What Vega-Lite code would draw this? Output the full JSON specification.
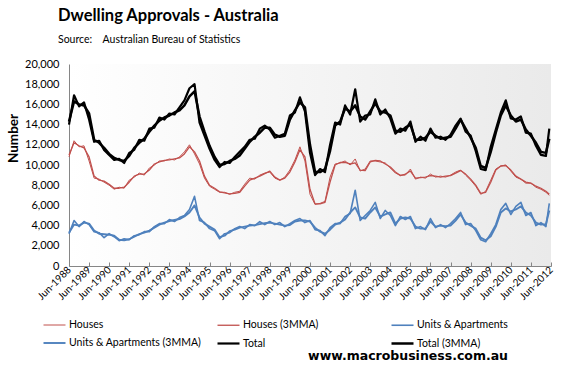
{
  "$schema": "https://vega.github.io/schema/vega-lite/v6.json",
  "width": 482,
  "height": 202,
  "autosize": {"type": "none"},
  "padding": {"left": 69, "top": 64, "right": 20, "bottom": 108},
  "background": "white",
  "title": {
    "text": "Dwelling Approvals - Australia",
    "subtitle": "Source:\u00a0\u00a0\u00a0\u00a0Australian Bureau of Statistics",
    "anchor": "start",
    "frame": "group",
    "dx": -11,
    "font": "Lato",
    "fontSize": 16.5,
    "fontWeight": "bold",
    "color": "#000000",
    "subtitleFont": "Lato",
    "subtitleFontSize": 10.5,
    "subtitleColor": "#000000",
    "subtitlePadding": 10,
    "offset": 13
  },
  "config": {
    "font": "Lato",
    "view": {
      "stroke": null,
      "fill": {
        "gradient": "linear",
        "x1": 0, "y1": 0, "x2": 1, "y2": 0,
        "stops": [
          {"offset": 0, "color": "#ffffff"},
          {"offset": 1, "color": "#eaeaea"}
        ]
      }
    }
  },
  "data": {
    "format": {"parse": {"d": "date:'%Y-%m'"}},
    "values": [
      {"d":"1988-06","h":10800,"hm":11000,"u":3200,"um":3300,"t":14000,"tm":14300},
      {"d":"1988-09","h":12400,"hm":12200,"u":4500,"um":4100,"t":16900,"tm":16300},
      {"d":"1988-12","h":11800,"hm":11900,"u":3900,"um":4000,"t":15800,"tm":16000},
      {"d":"1989-03","h":11900,"hm":11700,"u":4400,"um":4300,"t":16200,"tm":15900},
      {"d":"1989-06","h":10400,"hm":10800,"u":4100,"um":4200,"t":14500,"tm":15100},
      {"d":"1989-09","h":8700,"hm":8900,"u":3400,"um":3500,"t":12300,"tm":12500},
      {"d":"1989-12","h":8600,"hm":8500,"u":3300,"um":3200,"t":12400,"tm":12200},
      {"d":"1990-03","h":8300,"hm":8400,"u":2800,"um":3150,"t":11500,"tm":11700},
      {"d":"1990-06","h":8000,"hm":8100,"u":3200,"um":3100,"t":11000,"tm":11100},
      {"d":"1990-09","h":7600,"hm":7700,"u":2900,"um":3000,"t":10500,"tm":10700},
      {"d":"1990-12","h":7800,"hm":7700,"u":2500,"um":2600,"t":10600,"tm":10500},
      {"d":"1991-03","h":7700,"hm":7800,"u":2700,"um":2550,"t":10200,"tm":10400},
      {"d":"1991-06","h":8500,"hm":8300,"u":2600,"um":2650,"t":11200,"tm":10900},
      {"d":"1991-09","h":8800,"hm":8900,"u":3000,"um":2900,"t":11500,"tm":11700},
      {"d":"1991-12","h":9200,"hm":9100,"u":3100,"um":3150,"t":12500,"tm":12200},
      {"d":"1992-03","h":9000,"hm":9100,"u":3400,"um":3300,"t":12400,"tm":12600},
      {"d":"1992-06","h":9700,"hm":9500,"u":3400,"um":3500,"t":13600,"tm":13300},
      {"d":"1992-09","h":10000,"hm":10100,"u":3900,"um":3800,"t":13700,"tm":13900},
      {"d":"1992-12","h":10400,"hm":10300,"u":4200,"um":4100,"t":14700,"tm":14400},
      {"d":"1993-03","h":10400,"hm":10450,"u":4200,"um":4300,"t":14500,"tm":14700},
      {"d":"1993-06","h":10600,"hm":10500,"u":4600,"um":4450,"t":15100,"tm":14900},
      {"d":"1993-09","h":10500,"hm":10600,"u":4400,"um":4550,"t":15000,"tm":15200},
      {"d":"1993-12","h":10800,"hm":10700,"u":4800,"um":4650,"t":15700,"tm":15400},
      {"d":"1994-03","h":11300,"hm":11100,"u":5000,"um":4900,"t":16400,"tm":15900},
      {"d":"1994-06","h":12000,"hm":11800,"u":5600,"um":5300,"t":17600,"tm":16800},
      {"d":"1994-09","h":11100,"hm":11300,"u":6900,"um":6000,"t":18000,"tm":17300},
      {"d":"1994-12","h":10100,"hm":10400,"u":4500,"um":4800,"t":14200,"tm":14800},
      {"d":"1995-03","h":8700,"hm":8900,"u":4300,"um":4200,"t":12900,"tm":13300},
      {"d":"1995-06","h":7900,"hm":8000,"u":3700,"um":3900,"t":11600,"tm":11900},
      {"d":"1995-09","h":7600,"hm":7700,"u":3500,"um":3600,"t":10500,"tm":10800},
      {"d":"1995-12","h":7300,"hm":7350,"u":2700,"um":2850,"t":9800,"tm":10000},
      {"d":"1996-03","h":7300,"hm":7250,"u":3200,"um":3000,"t":10300,"tm":10100},
      {"d":"1996-06","h":7100,"hm":7150,"u":3300,"um":3450,"t":10200,"tm":10400},
      {"d":"1996-09","h":7300,"hm":7200,"u":3700,"um":3600,"t":10800,"tm":10600},
      {"d":"1996-12","h":7400,"hm":7300,"u":3900,"um":3800,"t":11300,"tm":10950},
      {"d":"1997-03","h":8100,"hm":7900,"u":3700,"um":3900,"t":11800,"tm":11600},
      {"d":"1997-06","h":8700,"hm":8500,"u":4100,"um":4000,"t":12500,"tm":12300},
      {"d":"1997-09","h":8600,"hm":8700,"u":4000,"um":4050,"t":12600,"tm":12800},
      {"d":"1997-12","h":9000,"hm":8900,"u":4400,"um":4150,"t":13600,"tm":13200},
      {"d":"1998-03","h":9200,"hm":9150,"u":4100,"um":4250,"t":13900,"tm":13700},
      {"d":"1998-06","h":9300,"hm":9400,"u":4400,"um":4300,"t":13500,"tm":13700},
      {"d":"1998-09","h":8700,"hm":8800,"u":4100,"um":4200,"t":12700,"tm":13000},
      {"d":"1998-12","h":8500,"hm":8500,"u":4300,"um":4100,"t":12900,"tm":12800},
      {"d":"1999-03","h":8800,"hm":8700,"u":3900,"um":4000,"t":13100,"tm":12900},
      {"d":"1999-06","h":9500,"hm":9300,"u":4200,"um":4050,"t":14900,"tm":14500},
      {"d":"1999-09","h":10500,"hm":10300,"u":4500,"um":4400,"t":15200,"tm":15400},
      {"d":"1999-12","h":11800,"hm":11500,"u":4700,"um":4500,"t":16700,"tm":16200},
      {"d":"2000-03","h":10400,"hm":10800,"u":4300,"um":4500,"t":15300,"tm":15700},
      {"d":"2000-06","h":7100,"hm":7600,"u":4500,"um":4400,"t":11200,"tm":12000},
      {"d":"2000-09","h":6100,"hm":6150,"u":3600,"um":3800,"t":9000,"tm":9300},
      {"d":"2000-12","h":6200,"hm":6150,"u":3500,"um":3400,"t":9600,"tm":9300},
      {"d":"2001-03","h":6400,"hm":6300,"u":3000,"um":3200,"t":9300,"tm":9600},
      {"d":"2001-06","h":8800,"hm":8300,"u":3800,"um":3600,"t":12000,"tm":11400},
      {"d":"2001-09","h":10100,"hm":10000,"u":4200,"um":4100,"t":14200,"tm":13900},
      {"d":"2001-12","h":10200,"hm":10250,"u":4200,"um":4300,"t":14000,"tm":14300},
      {"d":"2002-03","h":10400,"hm":10250,"u":4900,"um":4600,"t":15900,"tm":15600},
      {"d":"2002-06","h":10000,"hm":10100,"u":5200,"um":5300,"t":15000,"tm":15300},
      {"d":"2002-09","h":10600,"hm":10200,"u":7500,"um":5800,"t":17500,"tm":15900},
      {"d":"2002-12","h":9400,"hm":9500,"u":4500,"um":4800,"t":14300,"tm":14800},
      {"d":"2003-03","h":9600,"hm":9450,"u":5000,"um":4700,"t":14900,"tm":14500},
      {"d":"2003-06","h":10400,"hm":10300,"u":5500,"um":5300,"t":15000,"tm":15300},
      {"d":"2003-09","h":10400,"hm":10450,"u":6300,"um":5800,"t":16500,"tm":16100},
      {"d":"2003-12","h":10300,"hm":10400,"u":4700,"um":4900,"t":15000,"tm":15300},
      {"d":"2004-03","h":10200,"hm":10100,"u":5500,"um":5100,"t":15500,"tm":15200},
      {"d":"2004-06","h":9700,"hm":9800,"u":5000,"um":5300,"t":14600,"tm":14900},
      {"d":"2004-09","h":9200,"hm":9300,"u":4000,"um":4200,"t":13100,"tm":13400},
      {"d":"2004-12","h":9000,"hm":8950,"u":4900,"um":4700,"t":13600,"tm":13300},
      {"d":"2005-03","h":9000,"hm":9100,"u":4600,"um":4800,"t":13400,"tm":13700},
      {"d":"2005-06","h":9600,"hm":9400,"u":4900,"um":4700,"t":14300,"tm":14000},
      {"d":"2005-09","h":8600,"hm":8700,"u":3700,"um":3900,"t":12300,"tm":12500},
      {"d":"2005-12","h":8800,"hm":8750,"u":3900,"um":3700,"t":12800,"tm":12500},
      {"d":"2006-03","h":8700,"hm":8800,"u":3600,"um":3700,"t":12400,"tm":12700},
      {"d":"2006-06","h":9100,"hm":8950,"u":4700,"um":4400,"t":13600,"tm":13300},
      {"d":"2006-09","h":8800,"hm":8900,"u":3800,"um":3900,"t":12700,"tm":12900},
      {"d":"2006-12","h":8900,"hm":8800,"u":4100,"um":4000,"t":12800,"tm":12600},
      {"d":"2007-03","h":8800,"hm":8900,"u":3800,"um":3950,"t":12500,"tm":12700},
      {"d":"2007-06","h":9000,"hm":8950,"u":4200,"um":4000,"t":13000,"tm":12800},
      {"d":"2007-09","h":9300,"hm":9200,"u":4700,"um":4500,"t":13900,"tm":13600},
      {"d":"2007-12","h":9500,"hm":9450,"u":5300,"um":5100,"t":14600,"tm":14500},
      {"d":"2008-03","h":9000,"hm":9100,"u":4100,"um":4300,"t":13300,"tm":13600},
      {"d":"2008-06","h":8500,"hm":8600,"u":4200,"um":4000,"t":12900,"tm":12700},
      {"d":"2008-09","h":7900,"hm":8000,"u":3500,"um":3700,"t":11400,"tm":11700},
      {"d":"2008-12","h":7100,"hm":7200,"u":2600,"um":2800,"t":9600,"tm":9900},
      {"d":"2009-03","h":7400,"hm":7300,"u":2400,"um":2550,"t":9500,"tm":9700},
      {"d":"2009-06","h":8500,"hm":8300,"u":3200,"um":2950,"t":11800,"tm":11300},
      {"d":"2009-09","h":9600,"hm":9500,"u":4100,"um":3900,"t":13500,"tm":13200},
      {"d":"2009-12","h":9900,"hm":9900,"u":5600,"um":5300,"t":15200,"tm":14900},
      {"d":"2010-03","h":10000,"hm":9950,"u":6200,"um":5700,"t":16400,"tm":15900},
      {"d":"2010-06","h":9400,"hm":9500,"u":5100,"um":5400,"t":14600,"tm":14900},
      {"d":"2010-09","h":8800,"hm":8900,"u":5900,"um":5600,"t":14500,"tm":14300},
      {"d":"2010-12","h":8600,"hm":8600,"u":6300,"um":5900,"t":14800,"tm":14500},
      {"d":"2011-03","h":8200,"hm":8300,"u":5000,"um":5300,"t":13200,"tm":13500},
      {"d":"2011-06","h":8200,"hm":8200,"u":5300,"um":5000,"t":13100,"tm":12900},
      {"d":"2011-09","h":7800,"hm":7900,"u":4000,"um":4300,"t":11900,"tm":12200},
      {"d":"2011-12","h":7600,"hm":7700,"u":4300,"um":4100,"t":11000,"tm":11300},
      {"d":"2012-03","h":7300,"hm":7400,"u":3900,"um":4150,"t":10900,"tm":11200},
      {"d":"2012-05","h":7000,"hm":7100,"u":6200,"um":5500,"t":13600,"tm":12600}
    ]
  },
  "transform": [{"fold": ["h", "hm", "u", "um", "t", "tm"], "as": ["s", "v"]}],
  "mark": {"type": "line", "strokeJoin": "round"},
  "encoding": {
    "x": {
      "field": "d",
      "type": "temporal",
      "scale": {"domain": [{"year": 1988, "month": 6, "date": 1}, {"year": 2012, "month": 6, "date": 1}]},
      "axis": {
        "title": null,
        "grid": false,
        "format": "%b-%Y",
        "values": [
          {"year": 1988, "month": 6, "date": 1}, {"year": 1989, "month": 6, "date": 1},
          {"year": 1990, "month": 6, "date": 1}, {"year": 1991, "month": 6, "date": 1},
          {"year": 1992, "month": 6, "date": 1}, {"year": 1993, "month": 6, "date": 1},
          {"year": 1994, "month": 6, "date": 1}, {"year": 1995, "month": 6, "date": 1},
          {"year": 1996, "month": 6, "date": 1}, {"year": 1997, "month": 6, "date": 1},
          {"year": 1998, "month": 6, "date": 1}, {"year": 1999, "month": 6, "date": 1},
          {"year": 2000, "month": 6, "date": 1}, {"year": 2001, "month": 6, "date": 1},
          {"year": 2002, "month": 6, "date": 1}, {"year": 2003, "month": 6, "date": 1},
          {"year": 2004, "month": 6, "date": 1}, {"year": 2005, "month": 6, "date": 1},
          {"year": 2006, "month": 6, "date": 1}, {"year": 2007, "month": 6, "date": 1},
          {"year": 2008, "month": 6, "date": 1}, {"year": 2009, "month": 6, "date": 1},
          {"year": 2010, "month": 6, "date": 1}, {"year": 2011, "month": 6, "date": 1},
          {"year": 2012, "month": 6, "date": 1}
        ],
        "labelAngle": -45,
        "labelAlign": "right",
        "labelBaseline": "middle",
        "labelFontSize": 10,
        "labelColor": "#000000",
        "labelOverlap": false,
        "labelFlush": false,
        "labelPadding": 6,
        "tickSize": -4,
        "tickColor": "#868686",
        "domainColor": "#868686"
      }
    },
    "y": {
      "field": "v",
      "type": "quantitative",
      "scale": {"domain": [0, 20000]},
      "axis": {
        "title": "Number",
        "titleFont": "Lato",
        "titleFontSize": 13.5,
        "titleFontWeight": "bold",
        "titleColor": "#000000",
        "titlePadding": 4,
        "titleY": 74,
        "values": [0, 2000, 4000, 6000, 8000, 10000, 12000, 14000, 16000, 18000, 20000],
        "format": ",.0f",
        "labelFontSize": 11,
        "labelColor": "#000000",
        "labelPadding": 10,
        "grid": false,
        "ticks": false,
        "domainColor": "#868686"
      }
    },
    "color": {
      "field": "s",
      "type": "nominal",
      "scale": {
        "domain": ["h", "hm", "u", "um", "t", "tm"],
        "range": ["#c0504d", "#c0504d", "#4f81bd", "#4f81bd", "#000000", "#000000"]
      },
      "legend": {
        "orient": "none",
        "direction": "horizontal",
        "legendX": -27,
        "legendY": 249,
        "columns": 3,
        "gridAlign": "all",
        "columnPadding": 10,
        "rowPadding": -12,
        "symbolType": "stroke",
        "symbolSize": 484,
        "labelOffset": 2,
        "labelFontSize": 10.5,
        "labelLimit": 0,
        "labelColor": "#000000",
        "labelExpr": "datum.label == 'h' ? 'Houses' : datum.label == 'hm' ? 'Houses (3MMA)' : datum.label == 'u' ? 'Units & Apartments' : datum.label == 'um' ? 'Units & Apartments (3MMA)' : datum.label == 't' ? 'Total' : 'Total (3MMA)'",
        "title": "www.macrobusiness.com.au",
        "titleOrient": "bottom",
        "titleAnchor": "end",
        "titleAlign": "right",
        "titleLimit": 0,
        "titleFont": "DejaVu Sans",
        "titleFontSize": 12.5,
        "titleFontWeight": "bold",
        "titleColor": "#000000",
        "titlePadding": 1
      }
    },
    "strokeWidth": {
      "field": "s",
      "type": "nominal",
      "scale": {
        "domain": ["h", "hm", "u", "um", "t", "tm"],
        "range": [1, 2.5, 1, 2.5, 1, 2.5]
      }
    }
  }
}
